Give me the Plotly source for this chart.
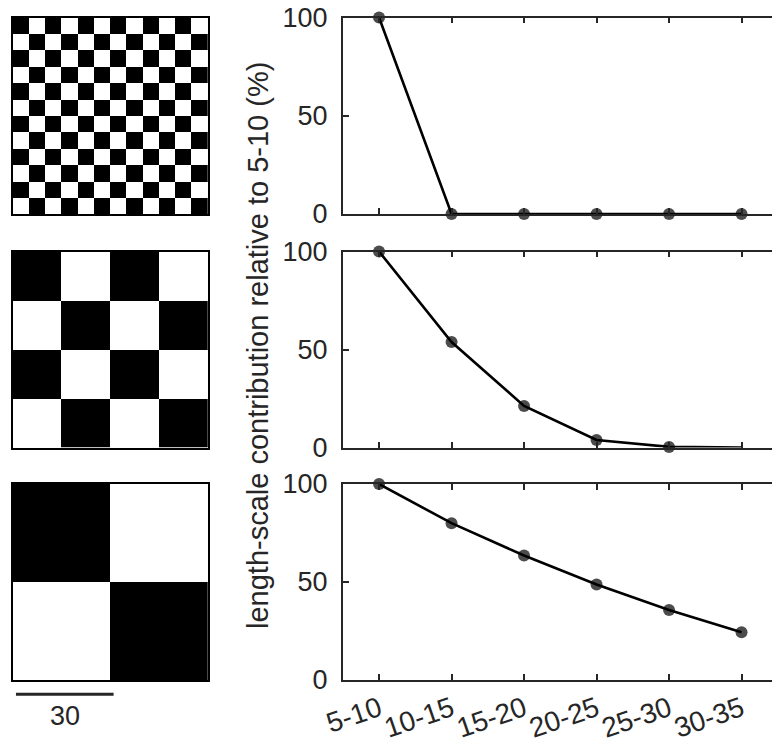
import plotly.graph_objects as go

# ---------------- data ----------------
CATEGORIES = ["5-10", "10-15", "15-20", "20-25", "25-30", "30-35"]
FINE_PATTERN = [100, 0, 0, 0, 0, 0]
MEDIUM_PATTERN = [100, 53.8, 21.2, 3.8, 0.3, 0]
COARSE_PATTERN = [100, 80.0, 63.5, 48.7, 35.7, 24.4]
CHECKER_CELLS = [12, 4, 2]          # cells per side of each checkerboard
IMAGE_EXTENT = 60                   # physical width of each checkerboard
SCALE_BAR_LENGTH = 30
SCALE_BAR_LABEL = "30"
Y_TICKS = [0, 50, 100]
Y_TITLE = "length-scale contribution relative to 5-10 (%)"

# ---------------- layout helpers ----------------
W, H = 772, 745
AX = "#262626"
FONT = "Liberation Sans, Arial, sans-serif"


def fx(p):
    return p / W


def fy(p):
    return 1 - p / H


ROWS_PX = [(17.5, 214.0), (251.5, 447.5), (484.0, 680.0)]
PLOT_X_PX = (342.8, 772.0)
IMG_X_PX = (12.7, 208.0)
UNIT_PX = 72.5  # pixels per category step

series = [FINE_PATTERN, MEDIUM_PATTERN, COARSE_PATTERN]
marker_sizes = [[12] * 6, [12] * 5 + [0], [12] * 6]

fig = go.Figure()
layout = dict(
    template="none",
    width=W, height=H, autosize=False,
    margin=dict(l=0, r=0, t=0, b=0, pad=0),
    paper_bgcolor="white", plot_bgcolor="white",
    showlegend=False,
    font=dict(family=FONT, color=AX),
)

x_right = -0.5 + (PLOT_X_PX[1] - PLOT_X_PX[0]) / UNIT_PX

for i, (vals, ncell) in enumerate(zip(series, CHECKER_CELLS)):
    top, bot = ROWS_PX[i]
    ydom = [fy(bot), fy(top)]
    # ---- line plot ----
    pa = i + 1
    xs = "x" if pa == 1 else f"x{pa}"
    ys = "y" if pa == 1 else f"y{pa}"
    fig.add_trace(go.Scatter(
        x=CATEGORIES, y=vals, xaxis=xs, yaxis=ys,
        mode="lines+markers",
        line=dict(color="black", width=2.6),
        marker=dict(color="black", size=marker_sizes[i],
                    line=dict(width=0)),
        cliponaxis=False,
    ))
    xk = "xaxis" if pa == 1 else f"xaxis{pa}"
    yk = "yaxis" if pa == 1 else f"yaxis{pa}"
    layout[xk] = dict(
        domain=[fx(PLOT_X_PX[0]), 1.0], anchor=ys,
        type="category", categoryorder="array", categoryarray=CATEGORIES,
        range=[-0.5, x_right], automargin=False,
        showline=True, linecolor=AX, linewidth=1.8, mirror="ticks",
        ticks="inside", ticklen=6, tickwidth=1.5, tickcolor=AX,
        showgrid=False, zeroline=False,
        showticklabels=(i == 2), tickangle=-19,
        tickfont=dict(size=28, color=AX, family=FONT),
    )
    layout[yk] = dict(
        domain=ydom, anchor=xs,
        range=[0, 100], tickvals=Y_TICKS, automargin=False,
        showline=True, linecolor=AX, linewidth=1.8,
        ticks="inside", ticklen=6, tickwidth=1.5, tickcolor=AX,
        showgrid=False, zeroline=False,
        tickfont=dict(size=27, color=AX, family=FONT),
        ticklabelstandoff=8,
    )

    # ---- checkerboard image ----
    ia = i + 4
    cell = IMAGE_EXTENT / ncell
    z = [[(r + c) % 2 for c in range(ncell)] for r in range(ncell)]
    fig.add_trace(go.Heatmap(
        z=z, x0=cell / 2, dx=cell, y0=cell / 2, dy=cell,
        xaxis=f"x{ia}", yaxis=f"y{ia}",
        colorscale=[[0, "black"], [1, "white"]], zmin=0, zmax=1,
        showscale=False, hoverinfo="skip",
    ))
    layout[f"xaxis{ia}"] = dict(
        domain=[fx(IMG_X_PX[0]), fx(IMG_X_PX[1])], anchor=f"y{ia}",
        range=[0, IMAGE_EXTENT], showline=True, linecolor="black",
        linewidth=2, mirror=True, ticks="", showticklabels=False,
        showgrid=False, zeroline=False, automargin=False,
    )
    layout[f"yaxis{ia}"] = dict(
        domain=ydom, anchor=f"x{ia}",
        range=[IMAGE_EXTENT, 0], showline=True, linecolor="black",
        linewidth=2, mirror=True, ticks="", showticklabels=False,
        showgrid=False, zeroline=False, automargin=False,
    )

fig.update_layout(**layout)

# scale bar under the coarse checkerboard (in image units)
bar_offset = 1.0
fig.add_shape(type="line", xref="x6", yref="paper",
              x0=bar_offset, x1=bar_offset + SCALE_BAR_LENGTH,
              y0=fy(694.3), y1=fy(694.3),
              line=dict(color=AX, width=3))
fig.add_annotation(text=SCALE_BAR_LABEL, xref="x6", yref="paper",
                   x=bar_offset + SCALE_BAR_LENGTH / 2, y=fy(716),
                   showarrow=False, xanchor="center", yanchor="middle",
                   font=dict(size=27, color=AX, family=FONT))

# shared y-axis title
fig.add_annotation(text=Y_TITLE, xref="paper", yref="paper",
                   x=fx(258), y=fy(346), textangle=-90,
                   showarrow=False, xanchor="center", yanchor="middle",
                   font=dict(size=29, color=AX, family=FONT))

fig.write_html(
    "out.html",
    config={"displayModeBar": False},
    post_script="document.body.style.margin='0px';document.body.style.overflow='hidden';",
)
